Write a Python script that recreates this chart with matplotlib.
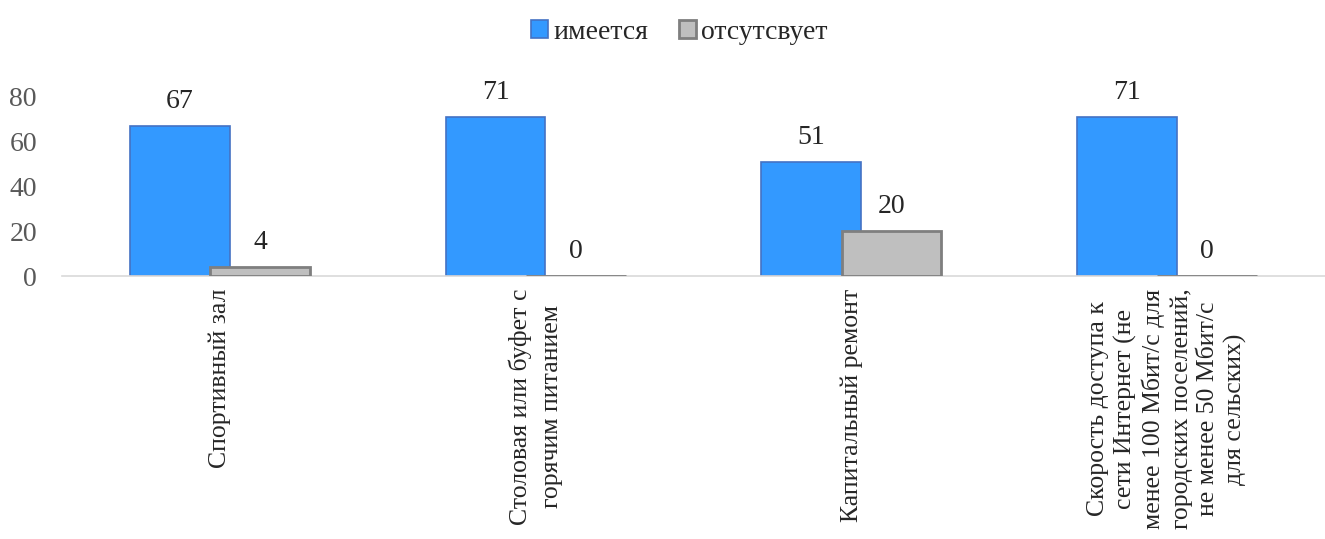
import numpy as np
import matplotlib.pyplot as plt

plt.rcParams['font.family'] = ['Liberation Serif', 'DejaVu Serif']

categories = [
    "Спортивный зал",
    "Столовая или буфет с\nгорячим питанием",
    "Капитальный ремонт",
    "Скорость доступа к\nсети Интернет (не\nменее 100 Мбит/с для\nгородских поселений,\nне менее 50 Мбит/с\nдля сельских)",
]
imeetsya = [67, 71, 51, 71]
otsutstvuet = [4, 0, 20, 0]

fig = plt.figure(figsize=(13.25, 5.39), dpi=100)
ax = fig.add_axes([62 / 1325, 1 - 276 / 539, 1 - 62 / 1325, 179 / 539])

x = np.arange(len(categories))
width = 0.316
offset = 0.127

b1 = ax.bar(x - offset, imeetsya, width, color="#3399FF", edgecolor="#4472C4",
            linewidth=1.2, label="имеется", zorder=2)
b2 = ax.bar(x + offset, otsutstvuet, width, color="#BFBFBF", edgecolor="#7F7F7F",
            linewidth=2, label="отсутсвует", zorder=3)

for bars, vals in [(b1, imeetsya), (b2, otsutstvuet)]:
    for bar, v in zip(bars, vals):
        ax.text(bar.get_x() + bar.get_width() / 2, v + 5.5, str(v),
                ha="center", va="bottom", fontsize=20, color="#262626")

ax.set_xlim(-0.5, 3.5)
ax.set_ylim(0, 80)
ax.set_yticks([0, 20, 40, 60, 80])
ax.tick_params(axis="y", length=0, labelsize=20, labelcolor="#595959", pad=18)
ax.tick_params(axis="x", length=0, pad=9)
ax.set_xticks(x)
labels = ax.set_xticklabels(categories, rotation=90, fontsize=18.5, color="#262626",
                            ha="center", va="top", multialignment="center",
                            linespacing=1.27)
labels[1].set_linespacing(1.55)

for s in ["top", "right", "left"]:
    ax.spines[s].set_visible(False)
ax.spines["bottom"].set_color("#D9D9D9")
ax.spines["bottom"].set_linewidth(1.2)

fig.legend(loc="upper center", bbox_to_anchor=(0.513, 1.01), ncol=2, frameon=False,
           fontsize=20, handlelength=0.6, handleheight=0.6, handletextpad=0.2,
           columnspacing=1.1, labelcolor="#262626")

fig.savefig("out.png", dpi=100)
